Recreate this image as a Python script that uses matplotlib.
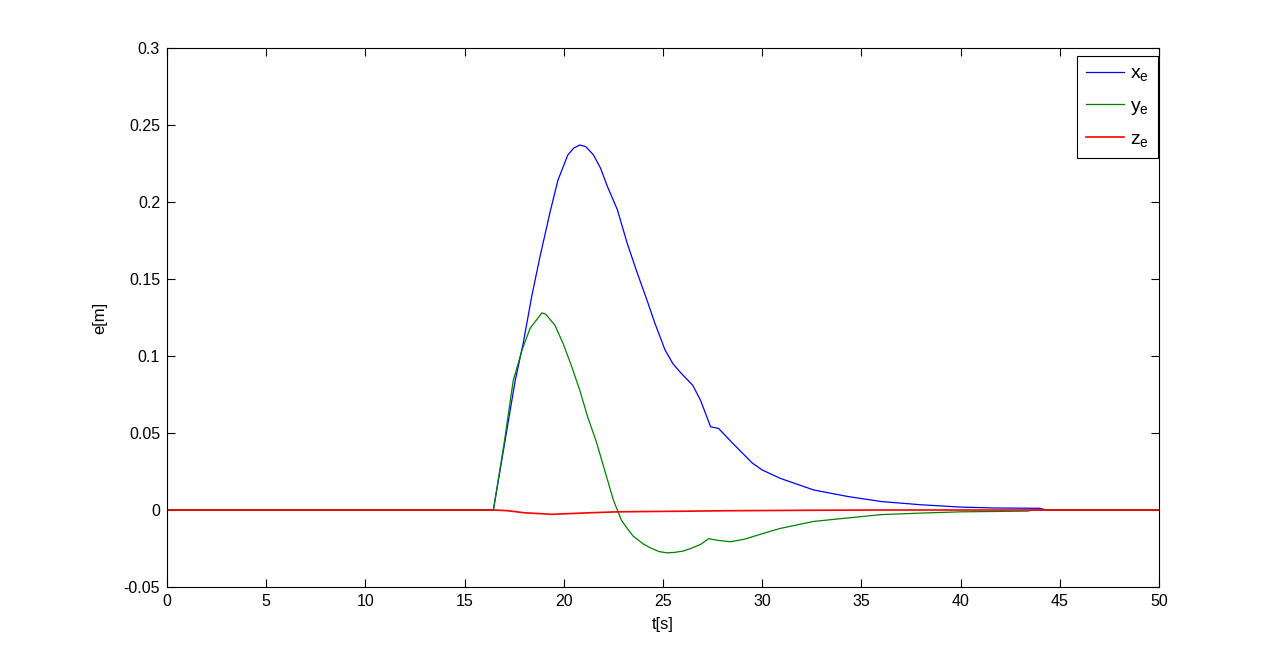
import numpy as np
import matplotlib
matplotlib.use("Agg")
import matplotlib.pyplot as plt

plt.rcParams['font.family'] = ['Liberation Sans', 'DejaVu Sans']
plt.rcParams['mathtext.default'] = 'regular'

t_x = [0, 16.45, 17.0, 17.55, 17.95, 18.38, 18.8, 19.3, 19.7, 20.2, 20.5, 20.8, 21.1, 21.5, 21.85, 22.2,
       22.7, 23.2, 23.7, 24.2, 24.6, 25.1, 25.5, 25.9, 26.5, 26.9, 27.4, 27.8, 28.5, 29.0, 29.5, 30.0,
       30.9, 32.6, 34.3, 36.0, 38.0, 40.0, 41.7, 44.0, 44.3, 50]
x_e = [0, 0, 0.042, 0.084, 0.108, 0.1385, 0.1645, 0.193, 0.214, 0.2305, 0.235, 0.237, 0.236, 0.2305,
       0.222, 0.21, 0.195, 0.173, 0.154, 0.136, 0.121, 0.104, 0.095, 0.089, 0.081, 0.071, 0.054, 0.053,
       0.0435, 0.037, 0.0305, 0.026, 0.0206, 0.013, 0.0088, 0.0055, 0.0034, 0.0019, 0.0013, 0.0011,
       0.0, 0.0]

t_y = [0, 16.45, 17.0, 17.45, 17.9, 18.3, 18.9, 19.1, 19.55, 19.97, 20.4, 20.8, 21.2, 21.66, 22.1, 22.5,
       22.9, 23.2, 23.5, 24.0, 24.35, 24.8, 25.2, 25.6, 26.0, 26.4, 26.9, 27.3, 27.8, 28.4, 29.1, 29.9,
       30.9, 32.6, 34.3, 36.0, 38.0, 40.0, 43.4, 43.6, 50]
y_e = [0, 0, 0.044, 0.084, 0.104, 0.118, 0.128, 0.127, 0.12, 0.108, 0.093, 0.078, 0.0606, 0.0435,
       0.024, 0.0065, -0.0065, -0.012, -0.017, -0.022, -0.0245, -0.027, -0.0278, -0.0275, -0.0267,
       -0.025, -0.0223, -0.0186, -0.0198, -0.0206, -0.019, -0.0158, -0.012, -0.0074, -0.0052, -0.003,
       -0.002, -0.0012, -0.0007, 0, 0]

t_z = [0, 16.5, 17.2, 18.0, 19.4, 21.3, 22.7, 24, 26, 28, 32, 36, 50]
z_e = [0, 0, -0.0005, -0.0018, -0.0028, -0.0018, -0.0012, -0.001, -0.0008, -0.0005, -0.0002, 0, 0]

fig = plt.figure(figsize=(12.81, 6.6), dpi=100)
ax = fig.add_axes([167/1281, 1-587/660, (1159-167)/1281, (587-48)/660])
ax.plot(t_x, x_e, color=(0, 0, 1), lw=0.9, label='x$_e$')
ax.plot(t_y, y_e, color=(0, 0.5, 0), lw=0.9, label='y$_e$')
ax.plot(t_z, z_e, color=(1, 0, 0), lw=1.2, label='z$_e$')

ax.set_xlim(0, 50)
ax.set_ylim(-0.05, 0.3)
ax.set_xticks(np.arange(0, 51, 5))
ax.set_yticks([-0.05, 0, 0.05, 0.1, 0.15, 0.2, 0.25, 0.3])
ax.set_yticklabels(['-0.05', '0', '0.05', '0.1', '0.15', '0.2', '0.25', '0.3'])
ax.tick_params(direction='in', length=6, top=True, right=True, labelsize=11.5, pad=5)
for s in ax.spines.values():
    s.set_linewidth(0.8)
ax.set_xlabel('t[s]', fontsize=12, labelpad=6)
ax.set_ylabel('e[m]', fontsize=12, labelpad=12)

leg = ax.legend(loc='upper right', bbox_to_anchor=(0.999, 0.985), fontsize=14, fancybox=False,
                edgecolor='black', framealpha=1, handlelength=2.0, handletextpad=0.3,
                borderaxespad=0, borderpad=0.45, labelspacing=0.7)
leg.get_frame().set_linewidth(0.8)

fig.savefig('out.png', dpi=100)
